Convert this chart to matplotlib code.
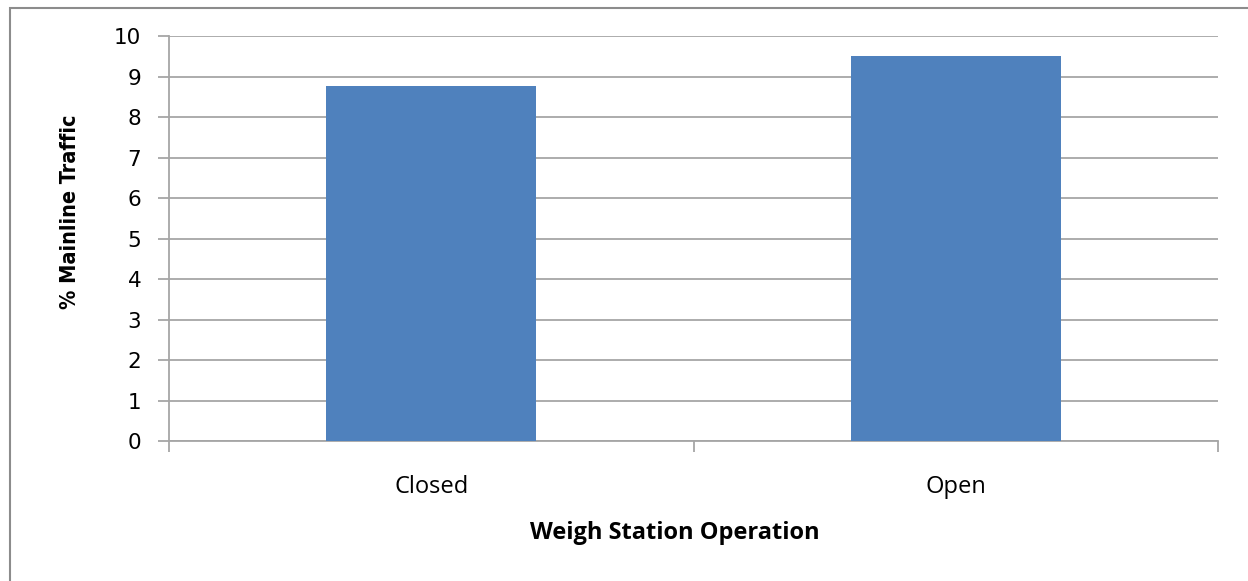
import numpy as np
import matplotlib.pyplot as plt
from matplotlib.patches import Rectangle

# data
categories = ['Closed', 'Open']
values = [8.77, 9.51]
y_ticks = list(range(0, 11))

bar_color = '#4F81BD'
grid_color = '#A6A6A6'

fig = plt.figure(figsize=(12.48, 5.81), dpi=100)
ax = fig.add_axes([169 / 1248, 1 - 441.3 / 581, (1218 - 169) / 1248, (441.3 - 36.3) / 581])

x = np.arange(len(categories))
ax.bar(x, values, width=0.4, color=bar_color, zorder=3)

ax.set_xlim(-0.5, len(categories) - 0.5)
ax.set_ylim(0, 10)
ax.set_yticks(y_ticks)
ax.set_yticklabels([str(t) for t in y_ticks], fontsize=15.5, family='DejaVu Sans')
ax.yaxis.grid(True, color=grid_color, linewidth=1.3, zorder=0)

# category ticks sit between categories, labels at centres
ax.set_xticks(np.arange(-0.5, len(categories)), minor=False)
ax.set_xticklabels([])
ax.set_xticks(x, minor=True)
ax.set_xticklabels(categories, minor=True, fontsize=17, family='Open Sans')
ax.tick_params(axis='x', which='minor', length=0, pad=24)
ax.tick_params(axis='x', which='major', length=8, width=1.3, color=grid_color, direction='out')
ax.tick_params(axis='y', length=8, width=1.3, color=grid_color, direction='out', pad=12)

for side in ['top', 'right']:
    ax.spines[side].set_visible(False)
for side in ['left', 'bottom']:
    ax.spines[side].set_color(grid_color)
    ax.spines[side].set_linewidth(1.3)

ax.set_xlabel('Weigh Station Operation', fontsize=17, fontweight='bold', family='Open Sans', labelpad=16)
ax.xaxis.label.set_x((675 - 169) / 1049)  # title sits a little left of centre in the original
ax.set_ylabel('% Mainline Traffic', fontsize=15.5, fontweight='bold', fontstretch='condensed',
              family='DejaVu Sans')
ax.yaxis.set_label_coords((80 - 169) / 1049, (441.3 - 212) / 405)

# outer chart border (runs off the right and bottom edges)
fig.patches.append(Rectangle((10 / 1248, -0.1), 1.2, 1 - 8 / 581 + 0.1, transform=fig.transFigure,
                             fill=False, edgecolor='#8C8C8C', linewidth=1.5))

fig.savefig('out.png', dpi=100)
